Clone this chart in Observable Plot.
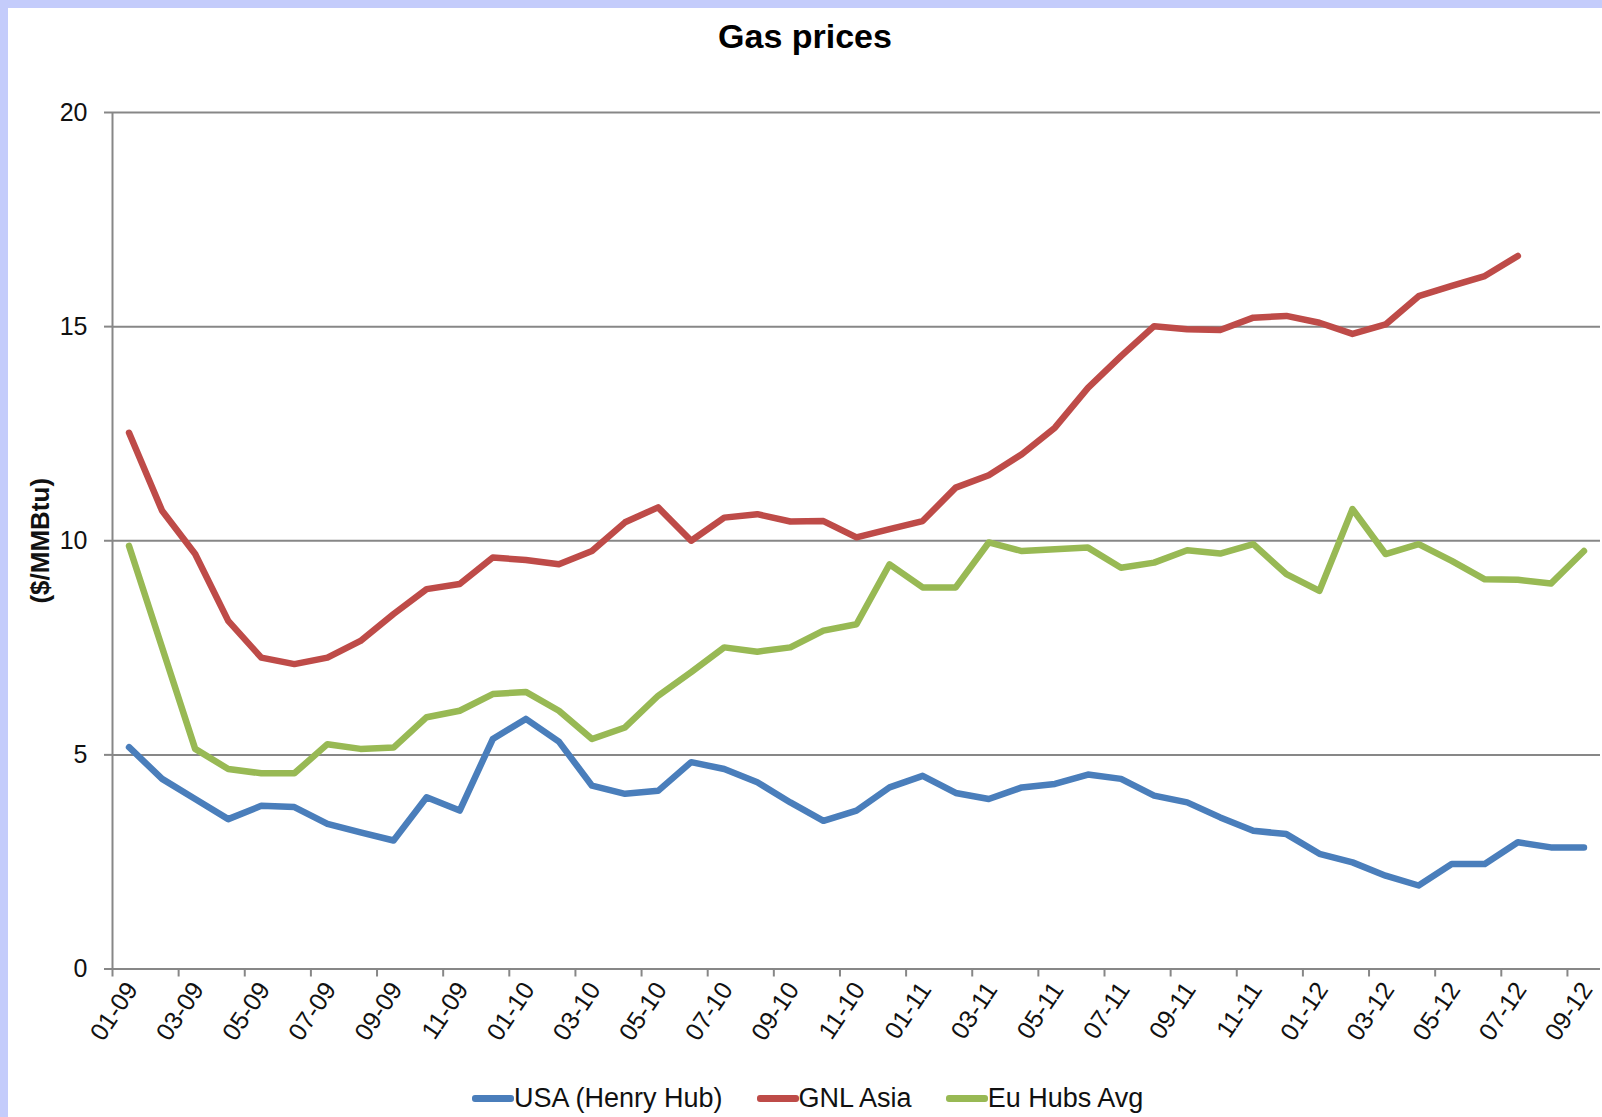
<!DOCTYPE html>
<html><head><meta charset="utf-8">
<script src="https://cdn.jsdelivr.net/npm/d3@7"></script>
<script src="https://cdn.jsdelivr.net/npm/@observablehq/plot@0.6"></script>
<style>
html,body{margin:0;padding:0;}
body{width:1602px;height:1117px;background:#c4ccfb;position:relative;overflow:hidden;font-family:"Liberation Sans",Arial,sans-serif;}
#panel{position:absolute;left:8px;top:8px;right:0;bottom:0;background:#fff;}
#title{position:absolute;left:8px;width:1594px;top:17px;text-align:center;font-weight:bold;font-size:34px;color:#000;}
#chart{position:absolute;left:0;top:60px;}
#legend{position:absolute;top:1083px;left:472px;display:flex;align-items:center;font-size:27px;color:#111;}
.item{display:flex;align-items:center;margin-right:34px;}
.sw{width:42px;height:7px;border-radius:3px;}
</style></head>
<body>
<div id="panel"></div>
<div id="title">Gas prices</div>
<div id="chart"></div>
<div id="legend"></div>
<script>
const months = ["01-09","02-09","03-09","04-09","05-09","06-09","07-09","08-09","09-09","10-09","11-09","12-09",
"01-10","02-10","03-10","04-10","05-10","06-10","07-10","08-10","09-10","10-10","11-10","12-10",
"01-11","02-11","03-11","04-11","05-11","06-11","07-11","08-11","09-11","10-11","11-11","12-11",
"01-12","02-12","03-12","04-12","05-12","06-12","07-12","08-12","09-12"];
const seriesNames = ["USA (Henry Hub)","GNL Asia","Eu Hubs Avg"];
const seriesColors = ["#4a7ebb","#be4b48","#98b954"];
const usa = [5.18,4.44,3.97,3.50,3.81,3.78,3.39,3.19,3.00,4.01,3.70,5.37,5.84,5.31,4.28,4.09,4.16,4.83,4.67,4.36,3.89,3.46,3.70,4.24,4.51,4.11,3.97,4.24,4.32,4.54,4.44,4.05,3.89,3.54,3.23,3.15,2.69,2.49,2.18,1.95,2.45,2.45,2.96,2.84,2.84];
const asia = [12.52,10.70,9.69,8.13,7.27,7.12,7.27,7.66,8.29,8.87,8.99,9.61,9.55,9.45,9.76,10.43,10.78,10.00,10.54,10.62,10.45,10.46,10.08,10.27,10.46,11.24,11.53,12.02,12.64,13.57,14.31,15.01,14.94,14.92,15.21,15.25,15.09,14.83,15.05,15.71,15.95,16.18,16.65];
const eu = [9.88,7.51,5.14,4.67,4.57,4.57,5.25,5.14,5.17,5.88,6.03,6.42,6.47,6.03,5.37,5.64,6.38,6.93,7.51,7.41,7.51,7.90,8.05,9.45,8.91,8.91,9.96,9.76,9.80,9.84,9.37,9.49,9.78,9.70,9.92,9.22,8.83,10.74,9.69,9.92,9.53,9.10,9.09,9.00,9.76];
const yTicks = [0,5,10,15,20];
const yLabel = "($/MMBtu)";

const seriesValues = [usa, asia, eu];
const data = [];
seriesValues.forEach((vals, s) => vals.forEach((v, i) => data.push({series: seriesNames[s], i, v})));

const labelIdx = months.map((m, i) => i).filter(i => i % 2 === 0);
const boundaries = labelIdx.map(i => i - 0.5);

const chart = Plot.plot({
  width: 1602, height: 1015,
  marginLeft: 112, marginRight: 2, marginTop: 52, marginBottom: 106.5,
  style: {fontFamily: "'Liberation Sans', Arial, sans-serif", fontSize: "24px", color: "#111", background: "transparent", overflow: "visible"},
  x: {type: "linear", domain: [-0.5, months.length - 0.5], label: null},
  y: {domain: [0, 20], label: null},
  color: {domain: seriesNames, range: seriesColors},
  marks: [
    Plot.ruleY(yTicks, {stroke: "#878787", strokeWidth: 2}),
    Plot.ruleX([-0.5], {stroke: "#878787", strokeWidth: 2}),
    Plot.axisY({ticks: yTicks, tickSize: 8, tickPadding: 17, stroke: "#878787", strokeWidth: 2, fill: "#111", fontSize: 25}),
    Plot.axisX({ticks: boundaries, tickSize: 8, tickFormat: () => "", stroke: "#878787", strokeWidth: 2}),
    Plot.axisX({ticks: labelIdx, tickSize: 0, tickPadding: 16, dx: 3, tickRotate: -56, tickFormat: i => months[i], fill: "#111", fontSize: 25}),
    Plot.text([yLabel], {frameAnchor: "left", textAnchor: "middle", rotate: -90, dx: -72, fontWeight: "bold", fontSize: 26, fill: "#111"}),
    Plot.line(data, {x: "i", y: "v", z: "series", stroke: "series", strokeWidth: 6.5, strokeLinejoin: "round", strokeLinecap: "round"})
  ]
});
document.getElementById("chart").appendChild(chart);

const legend = document.getElementById("legend");
seriesNames.forEach((n, k) => {
  const it = document.createElement("div"); it.className = "item";
  const sw = document.createElement("div"); sw.className = "sw"; sw.style.background = seriesColors[k];
  const t = document.createElement("span"); t.textContent = n;
  it.appendChild(sw); it.appendChild(t); legend.appendChild(it);
});
</script>
</body></html>
